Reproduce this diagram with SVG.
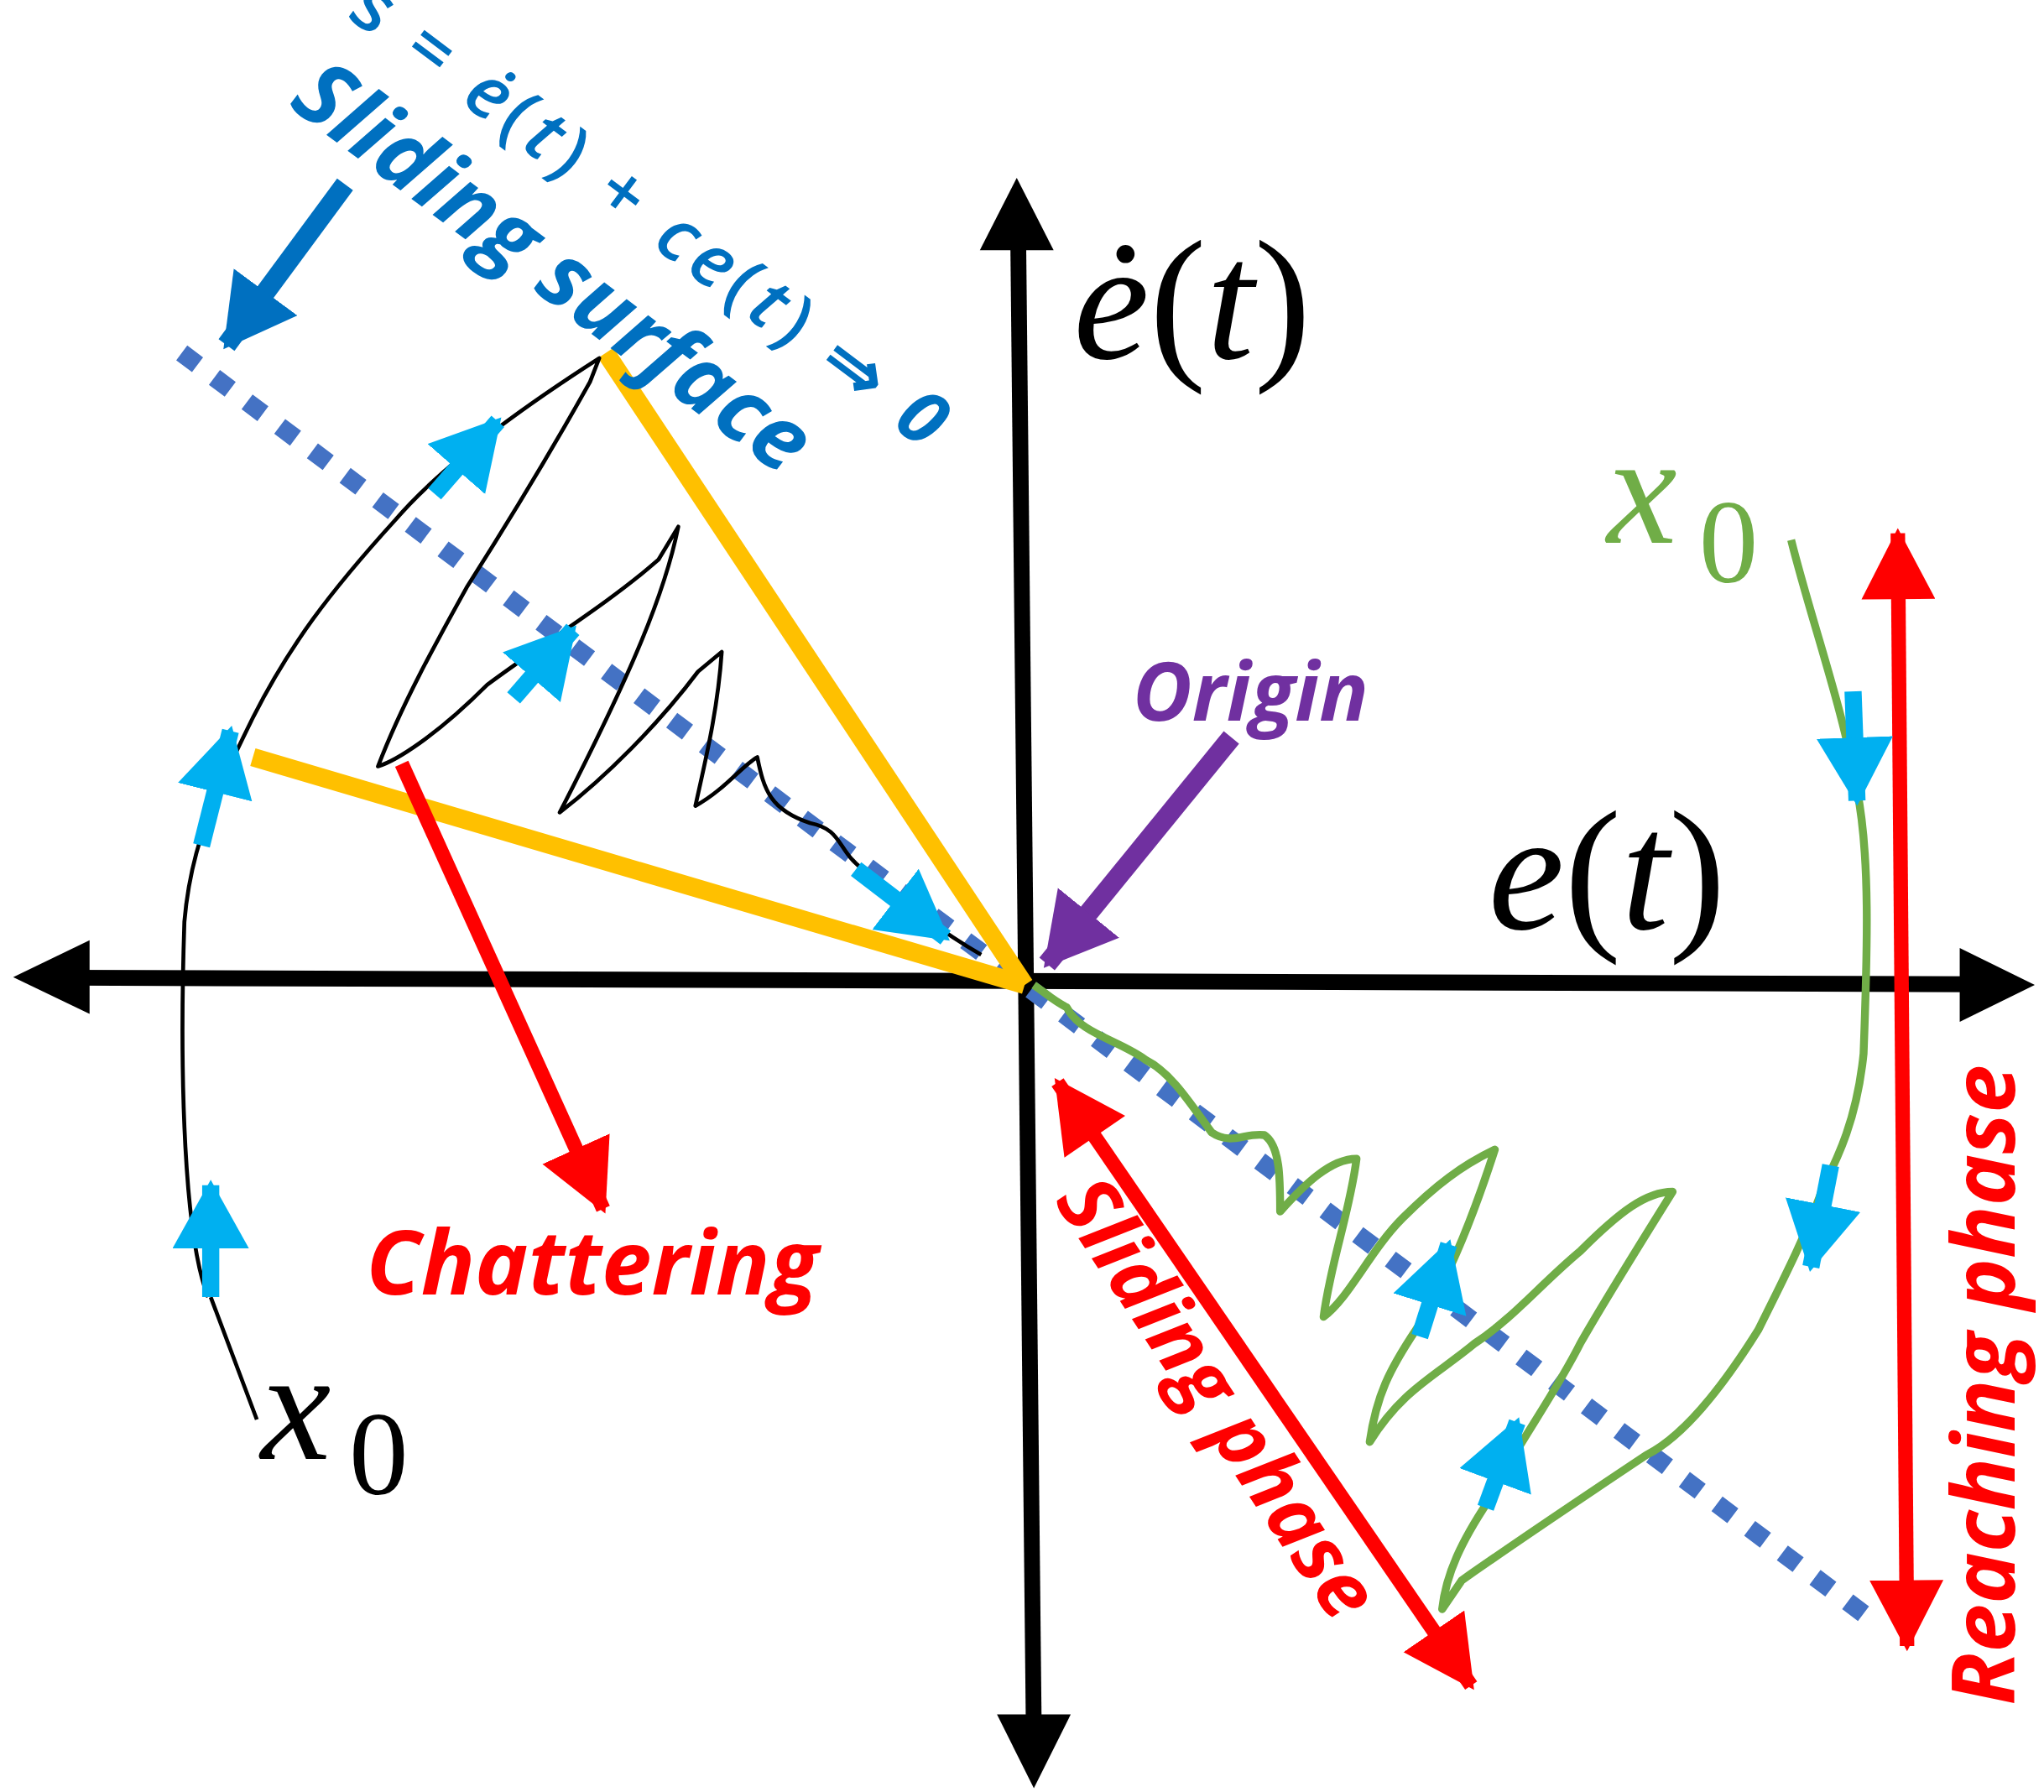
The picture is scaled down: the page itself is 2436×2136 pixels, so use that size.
<svg xmlns="http://www.w3.org/2000/svg" width="2436" height="2136" viewBox="0 0 2436 2136">
<style>
.ax{stroke:#000;stroke-width:12;fill:none}
.cy{stroke:#00B0F0;stroke-width:13;fill:none}
.rd{stroke:#FF0000;stroke-width:11;fill:none}
.yl{stroke:#FFC000;stroke-width:14;fill:none}
.tr{stroke:#000;stroke-width:3;fill:none;stroke-linejoin:round}
.gr{stroke:#70AD47;stroke-width:6;fill:none;stroke-linejoin:round}
.lbl{font-family:"Open Sans","Liberation Sans",sans-serif;font-weight:bold;font-style:italic}
.math{font-family:"Liberation Serif",serif;fill:#000}
</style>
<defs>
<marker id="ca" markerUnits="userSpaceOnUse" markerWidth="70" markerHeight="70" refX="48" refY="29" orient="auto"><path d="M0,0 L52,29 L0,58 Z" fill="#00B0F0"/></marker>
<marker id="ra" markerUnits="userSpaceOnUse" markerWidth="70" markerHeight="70" refX="50" refY="28" orient="auto"><path d="M0,0 L54,28 L0,56 Z" fill="#FF0000"/></marker>
<marker id="rs" markerUnits="userSpaceOnUse" markerWidth="70" markerHeight="70" refX="4" refY="28" orient="auto"><path d="M54,0 L0,28 L54,56 Z" fill="#FF0000"/></marker>
<marker id="ba" markerUnits="userSpaceOnUse" markerWidth="70" markerHeight="70" refX="50" refY="30" orient="auto"><path d="M0,0 L54,30 L0,60 Z" fill="#0070C0"/></marker>
<marker id="pa" markerUnits="userSpaceOnUse" markerWidth="70" markerHeight="70" refX="50" refY="30" orient="auto"><path d="M0,0 L54,30 L0,60 Z" fill="#7030A0"/></marker>
</defs>
<rect width="2436" height="2136" fill="#fff"/>
<g transform="scale(1.5696)">
<g id="axes">
<line class="ax" x1="50" y1="742.5" x2="1510" y2="747.5"/>
<path d="M10,742 L68,714 L68,770 Z" fill="#000"/>
<path d="M1545,748 L1488,720 L1488,776 Z" fill="#000"/>
<line class="ax" x1="773" y1="170" x2="785" y2="1320"/>
<path d="M772,135 L744,190 L800,190 Z" fill="#000"/>
<path d="M785,1358 L757,1302 L813,1302 Z" fill="#000"/>
</g>
<g id="connectors">
<line x1="138" y1="268" x2="1425" y2="1233" stroke="#4472C4" stroke-width="14" stroke-dasharray="15,16"/>
<line class="yl" x1="460" y1="268" x2="778" y2="748"/>
<line class="yl" x1="192" y1="575" x2="778" y2="748"/>
<line x1="262" y1="140" x2="172" y2="262" stroke="#0070C0" stroke-width="15" marker-end="url(#ba)"/>
<line x1="935" y1="560" x2="795" y2="732" stroke="#7030A0" stroke-width="15" marker-end="url(#pa)"/>
<line class="rd" x1="305" y1="580" x2="458" y2="918" marker-end="url(#ra)"/>
<line class="rd" x1="803" y1="822" x2="1117" y2="1280" marker-start="url(#rs)" marker-end="url(#ra)"/>
<line class="rd" x1="1441" y1="405" x2="1448" y2="1250" marker-start="url(#rs)" marker-end="url(#ra)"/>
</g>
<g id="black-trajectory">
<path class="tr" d="M195,1078 L160,985 M158,985 C140,940 136,820 140,700 C145,640 165,600 192,545 C220,490 250,450 300,395 C330,360 380,320 455,272 L448,290 C420,340 390,390 355,445 C330,490 305,535 287,582 C300,578 330,560 370,520 C410,490 460,460 500,425 L515,400 C505,450 480,510 425,617 C460,590 500,550 530,510 L548,495 C545,540 535,580 528,612 C550,600 565,580 575,575 C580,600 585,615 615,625 C640,630 635,645 655,660 C680,680 710,705 745,725"/>
<line class="cy" x1="160" y1="985" x2="160" y2="900" marker-end="url(#ca)"/>
<line class="cy" x1="153" y1="642" x2="175" y2="555" marker-end="url(#ca)"/>
<line class="cy" x1="330" y1="375" x2="378" y2="320" marker-end="url(#ca)"/>
<line class="cy" x1="390" y1="530" x2="435" y2="478" marker-end="url(#ca)"/>
<line class="cy" x1="650" y1="660" x2="718" y2="712" marker-end="url(#ca)"/>
</g>
<g id="green-trajectory">
<path class="gr" d="M1360,410 C1375,470 1400,540 1410,600 C1420,650 1418,720 1415,800 C1410,850 1395,880 1385,900 C1370,940 1360,960 1335,1010 C1310,1050 1280,1090 1250,1105 C1220,1125 1160,1165 1110,1200 L1095,1222 C1098,1195 1110,1170 1130,1140 C1150,1100 1180,1060 1200,1020 C1220,985 1245,945 1270,905 C1250,905 1230,920 1200,950 C1170,975 1150,1000 1120,1020 C1090,1045 1065,1055 1040,1095 C1045,1060 1055,1040 1075,1010 C1095,980 1115,935 1135,873 C1110,885 1090,900 1065,925 C1040,950 1025,985 1005,1000 C1010,960 1025,920 1030,880 C1010,880 990,900 972,920 C972,895 972,870 960,862 C945,860 935,870 920,860 C905,840 890,815 870,805 C850,790 820,785 810,765 C800,760 795,755 785,748"/>
<line class="cy" x1="1407" y1="525" x2="1410" y2="608" marker-end="url(#ca)"/>
<line class="cy" x1="1390" y1="885" x2="1375" y2="962" marker-end="url(#ca)"/>
<line class="cy" x1="1078" y1="1015" x2="1100" y2="945" marker-end="url(#ca)"/>
<line class="cy" x1="1128" y1="1145" x2="1152" y2="1080" marker-end="url(#ca)"/>
</g>
<g id="labels">
<text class="math" x="815" y="272" font-size="130"><tspan font-style="italic">ė</tspan>(<tspan font-style="italic">t</tspan>)</text>
<text class="math" x="1130" y="705" font-size="130"><tspan font-style="italic">e</tspan>(<tspan font-style="italic">t</tspan>)</text>
<text class="math" x="198" y="1108" font-size="120" font-style="italic">x</text>
<text class="math" x="265" y="1135" font-size="90">0</text>
<text class="math" x="1220" y="412" font-size="120" font-style="italic" style="fill:#70AD47">x</text>
<text class="math" x="1290" y="442" font-size="90" style="fill:#70AD47">0</text>
<text x="262" y="12" font-size="56" letter-spacing="5" fill="#0070C0" font-family="'Open Sans','Liberation Sans',sans-serif" font-weight="600" transform="rotate(36.9 262 12)">s = <tspan font-style="italic">ė</tspan>(<tspan font-style="italic">t</tspan>) + <tspan font-style="italic">c</tspan><tspan font-style="italic">e</tspan>(<tspan font-style="italic">t</tspan>) ⇒ <tspan font-style="italic" font-weight="bold">0</tspan></text>
<text class="lbl" x="218" y="80" font-size="68" fill="#0070C0" font-style="normal" transform="rotate(36.9 218 80)">Sliding surface</text>
<text class="lbl" x="860" y="547" font-size="62" fill="#7030A0">Origin</text>
<text class="lbl" x="278" y="983" font-size="68" fill="#FF0000">Chattering</text>
<text class="lbl" x="800" y="912" font-size="62" fill="#FF0000" transform="rotate(56.5 800 912)">Sliding phase</text>
<text class="lbl" x="1530" y="1295" font-size="66" fill="#FF0000" transform="rotate(-90 1530 1295)">Reaching phase</text>
</g>
</g>
</svg>
